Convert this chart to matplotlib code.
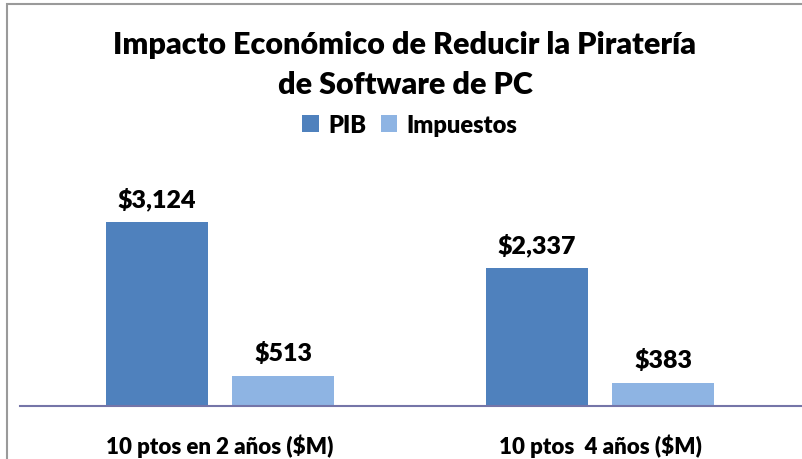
import matplotlib.pyplot as plt
from matplotlib.patches import Rectangle

categories = ['10 ptos en 2 años ($M)', '10 ptos  4 años ($M)']
series_names = ['PIB', 'Impuestos']
pib = [3124, 2337]
impuestos = [513, 383]
labels_pib = ['$3,124', '$2,337']
labels_imp = ['$513', '$383']

plt.rcParams['font.family'] = ['Lato', 'DejaVu Sans']

fig = plt.figure(figsize=(8.03, 4.60), dpi=100)
# chart border (cropped at right/bottom)
fig.patches.append(Rectangle((7 / 803, -0.1), 1.2, 1 - 5 / 460 + 0.1,
                             transform=fig.transFigure, fill=False,
                             edgecolor='#9a9a9a', linewidth=1.5))

ax = fig.add_axes([20 / 803, 1 - 407 / 460, 783 / 803, 257 / 460])
x = [0, 1]
w = 0.268
off = 0.166
b1 = ax.bar([i - off for i in x], pib, w, color='#4f81bd', label=series_names[0])
b2 = ax.bar([i + off for i in x], impuestos, w, color='#8eb4e3', label=series_names[1])

for bars, labs in ((b1, labels_pib), (b2, labels_imp)):
    for r, t in zip(bars, labs):
        ax.annotate(t, (r.get_x() + r.get_width() / 2, r.get_height()),
                    xytext=(0, 17), textcoords='offset points',
                    ha='center', va='center', fontsize=18, fontweight='heavy')

ax.set_xlim(-0.526, 1.534)
ax.set_ylim(0, 4363)
for s in ['top', 'right', 'left']:
    ax.spines[s].set_visible(False)
ax.spines['bottom'].set_color('#7575a8')
ax.spines['bottom'].set_linewidth(1.5)
ax.set_yticks([])
ax.set_xticks(x)
ax.set_xticklabels(categories, fontsize=16, fontweight='heavy')
ax.tick_params(axis='x', length=0, pad=20)

fig.text(405 / 803, 1 - 45 / 460, 'Impacto Económico de Reducir la Piratería',
         ha='center', va='center', fontsize=22, fontweight='heavy')
fig.text(405 / 803, 1 - 85 / 460, 'de Software de PC',
         ha='center', va='center', fontsize=22, fontweight='heavy')

fig.legend(handles=[b1, b2], loc='center', bbox_to_anchor=(410 / 803, 1 - 126 / 460),
           ncol=2, frameon=False, prop={'weight': 'heavy', 'size': 17},
           handlelength=0.7, handleheight=0.7, handletextpad=0.4, columnspacing=0.6)

fig.savefig('out.png', dpi=100)
